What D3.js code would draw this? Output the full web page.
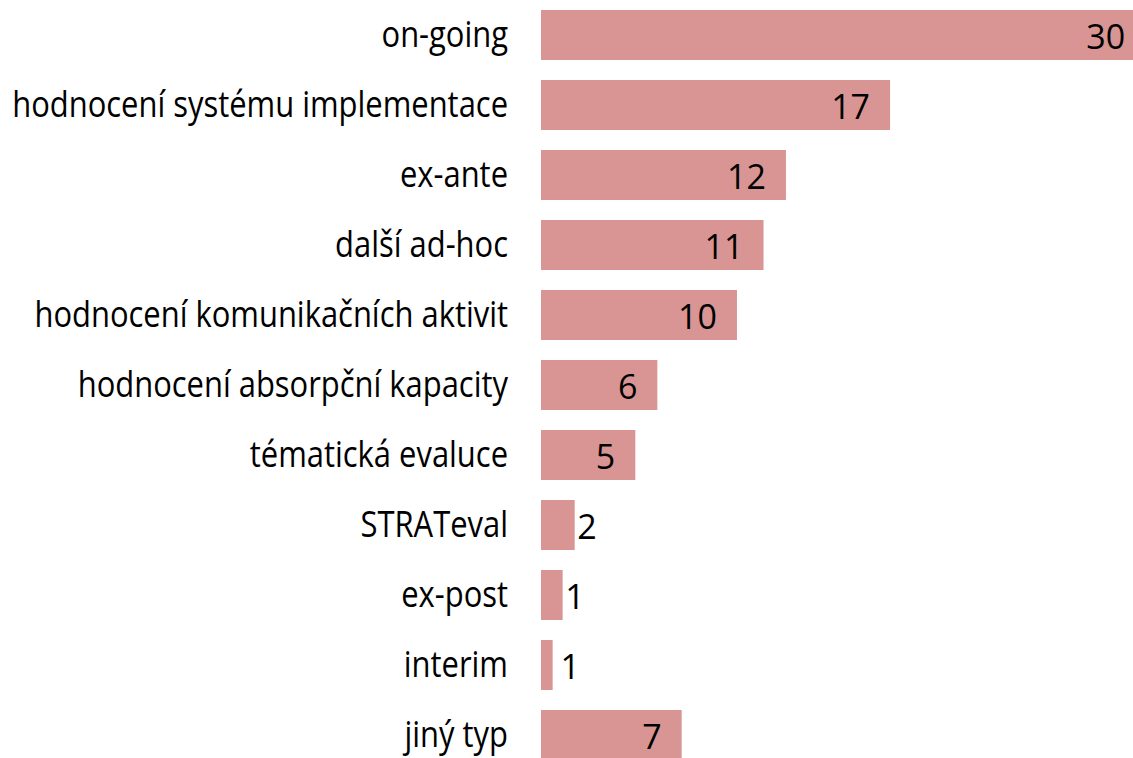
<!DOCTYPE html>
<html><head><meta charset="utf-8">
<script src="https://cdn.jsdelivr.net/npm/d3@7"></script>
<style>html,body{margin:0;padding:0;background:#fff;}</style>
</head><body>
<svg id="c" width="1133" height="758"></svg>
<script>
const categories = ["on-going","hodnocení systému implementace","ex-ante","další ad-hoc","hodnocení komunikačních aktivit","hodnocení absorpční kapacity","tématická evaluce","STRATeval","ex-post","interim","jiný typ"];
const values = [29.6, 17.1, 12.0, 10.9, 9.6, 5.7, 4.62, 1.65, 1.06, 0.57, 6.89];
const valueLabels = ["30","17","12","11","10","6","5","2","1","1","7"];
const axisMax = 29;

const svg = d3.select("#c");
svg.append("rect").attr("width",1133).attr("height",758).attr("fill","#fff");
const x = d3.scaleLinear().domain([0, axisMax]).range([541, 1133]);
const y = d3.scaleBand().domain(categories).range([0, 770]).paddingInner(20/70).paddingOuter(10/70);
const data = categories.map((c,i)=>({c, v: values[i], t: valueLabels[i]}));

svg.append("defs").append("clipPath").attr("id","plot").append("rect")
  .attr("x", x(0)).attr("y", 0).attr("width", x(axisMax)-x(0)).attr("height", 758);

svg.append("g").attr("clip-path","url(#plot)").selectAll("rect").data(data).join("rect")
  .attr("x", x(0)).attr("y", d=>y(d.c))
  .attr("width", d=>x(d.v)-x(0)).attr("height", y.bandwidth())
  .attr("fill","#D99594");

// category labels (horizontally condensed like the original)
const cat = svg.append("g").selectAll("text").data(data).join("text")
  .attr("font-family","'Open Sans', sans-serif").attr("font-size",36)
  .attr("text-anchor","end").attr("fill","#000")
  .attr("dy","0.33em")
  .text(d=>d.c);
const maxW = d3.max(cat.nodes(), n=>n.getComputedTextLength());
const k = 496/maxW;
cat.attr("transform", d=>`translate(508,${y(d.c)+y.bandwidth()/2}) scale(${k},1)`);

// value labels
svg.append("g").selectAll("text").data(data).join("text")
  .attr("font-family","'Open Sans', sans-serif").attr("font-size",34)
  .attr("fill","#000")
  .attr("y", d=>y(d.c)+y.bandwidth()/2).attr("dy","0.41em")
  .attr("text-anchor", d=> (x(d.v)-x(0) > 50) ? "end" : "start")
  .attr("x", d=> (x(d.v)-x(0) > 50) ? x(d.v)-20 : Math.max(x(d.v)+2.5, x(0.95)))
  .text(d=>d.t);
</script>
</body></html>
